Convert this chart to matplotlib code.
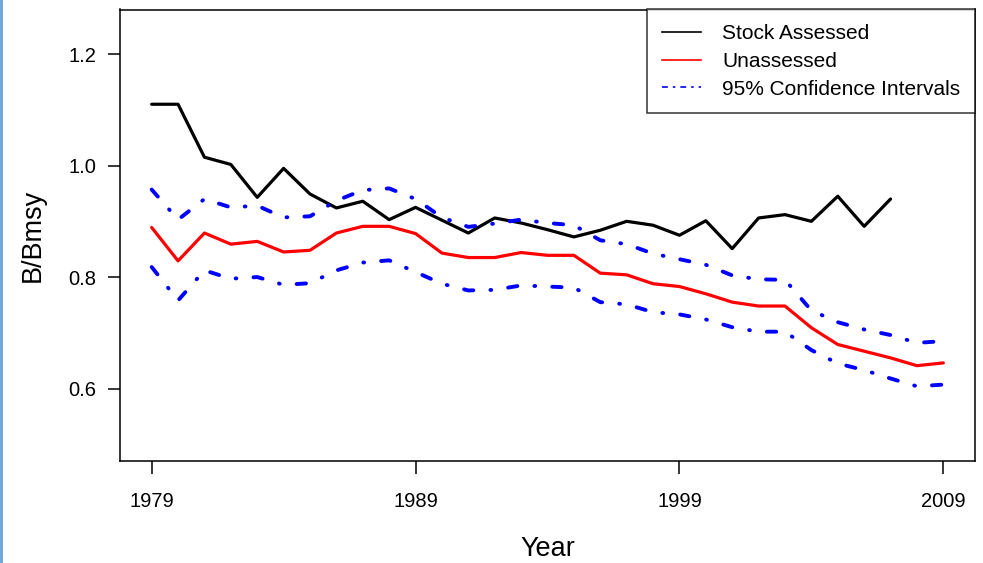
import matplotlib
matplotlib.use("Agg")
import matplotlib.pyplot as plt
from matplotlib.lines import Line2D
from matplotlib.patches import Rectangle

plt.rcParams['font.family'] = ['Liberation Sans', 'DejaVu Sans']

years = list(range(1979, 2010))
assessed = [1.110, 1.110, 1.015, 1.002, 0.943, 0.995, 0.949, 0.924, 0.936, 0.903,
            0.925, 0.902, 0.879, 0.906, 0.897, 0.885, 0.872, 0.884, 0.900, 0.893,
            0.875, 0.901, 0.851, 0.906, 0.912, 0.900, 0.945, 0.891, 0.940]
unassessed = [0.889, 0.829, 0.879, 0.859, 0.864, 0.845, 0.848, 0.879, 0.891, 0.891,
              0.878, 0.843, 0.835, 0.835, 0.844, 0.839, 0.839, 0.807, 0.804, 0.788,
              0.783, 0.770, 0.755, 0.748, 0.748, 0.709, 0.679, 0.667, 0.655, 0.641,
              0.646]
upper_ci = [0.957, 0.903, 0.940, 0.925, 0.928, 0.907, 0.909, 0.937, 0.956, 0.959,
            0.940, 0.907, 0.890, 0.896, 0.903, 0.897, 0.893, 0.866, 0.859, 0.842,
            0.832, 0.822, 0.803, 0.796, 0.795, 0.740, 0.719, 0.706, 0.696, 0.682,
            0.685]
lower_ci = [0.818, 0.758, 0.812, 0.797, 0.800, 0.786, 0.789, 0.812, 0.826, 0.830,
            0.809, 0.788, 0.776, 0.777, 0.785, 0.783, 0.781, 0.755, 0.751, 0.737,
            0.733, 0.724, 0.710, 0.702, 0.702, 0.669, 0.645, 0.633, 0.618, 0.604,
            0.607]
x_ticks = [1979, 1989, 1999, 2009]
y_ticks = [0.6, 0.8, 1.0, 1.2]
legend_labels = ["Stock Assessed", "Unassessed", "95% Confidence Intervals"]

fig = plt.figure(figsize=(9.83, 5.63), dpi=100)
fig.patches.append(Rectangle((0, 0), 3 / 983, 1, transform=fig.transFigure,
                             facecolor='#6FA8DC', edgecolor='none'))
ax = fig.add_axes([120 / 983, 1 - 461 / 563, 855 / 983, 451.5 / 563])

dd = (0, (2.4, 4.4, 0.2, 4.4))
ax.plot(years[:len(assessed)], assessed, color='black', lw=2.3,
        solid_joinstyle='round', solid_capstyle='round')
ax.plot(years, unassessed, color='#FF0000', lw=2.3,
        solid_joinstyle='round', solid_capstyle='round')
ax.plot(years, upper_ci, color='#0000FF', lw=2.8, ls=dd, dash_capstyle='round')
ax.plot(years, lower_ci, color='#0000FF', lw=2.8, ls=dd, dash_capstyle='round')

ax.set_xlim(1977.8, 2010.2)
ax.set_ylim(0.47, 1.28)
ax.set_xticks(x_ticks)
ax.set_yticks(y_ticks)
ax.set_yticklabels([f"{v:.1f}" for v in y_ticks])
for s in ax.spines.values():
    s.set_linewidth(1.1)
ax.tick_params(axis='both', direction='out', length=9, width=1.1, labelsize=14.5)
ax.tick_params(axis='y', pad=8)
ax.tick_params(axis='x', pad=13.5)
ax.set_xlabel("Year", fontsize=19.5, labelpad=18)
ax.set_ylabel("B/Bmsy", fontsize=19.5, labelpad=16)

handles = [Line2D([], [], color='black', lw=1.2),
           Line2D([], [], color='#FF0000', lw=1.2),
           Line2D([], [], color='#0000FF', lw=1.2, ls=(0, (3.5, 3, 1.5, 3)))]
leg = ax.legend(handles, legend_labels, loc='upper right', fontsize=15,
                frameon=True, fancybox=False, borderaxespad=0, borderpad=0.7,
                handlelength=1.9, handletextpad=1.0, labelspacing=0.42)
leg.get_frame().set_edgecolor('black')
leg.get_frame().set_linewidth(1.1)

fig.savefig("out.png", dpi=100)
